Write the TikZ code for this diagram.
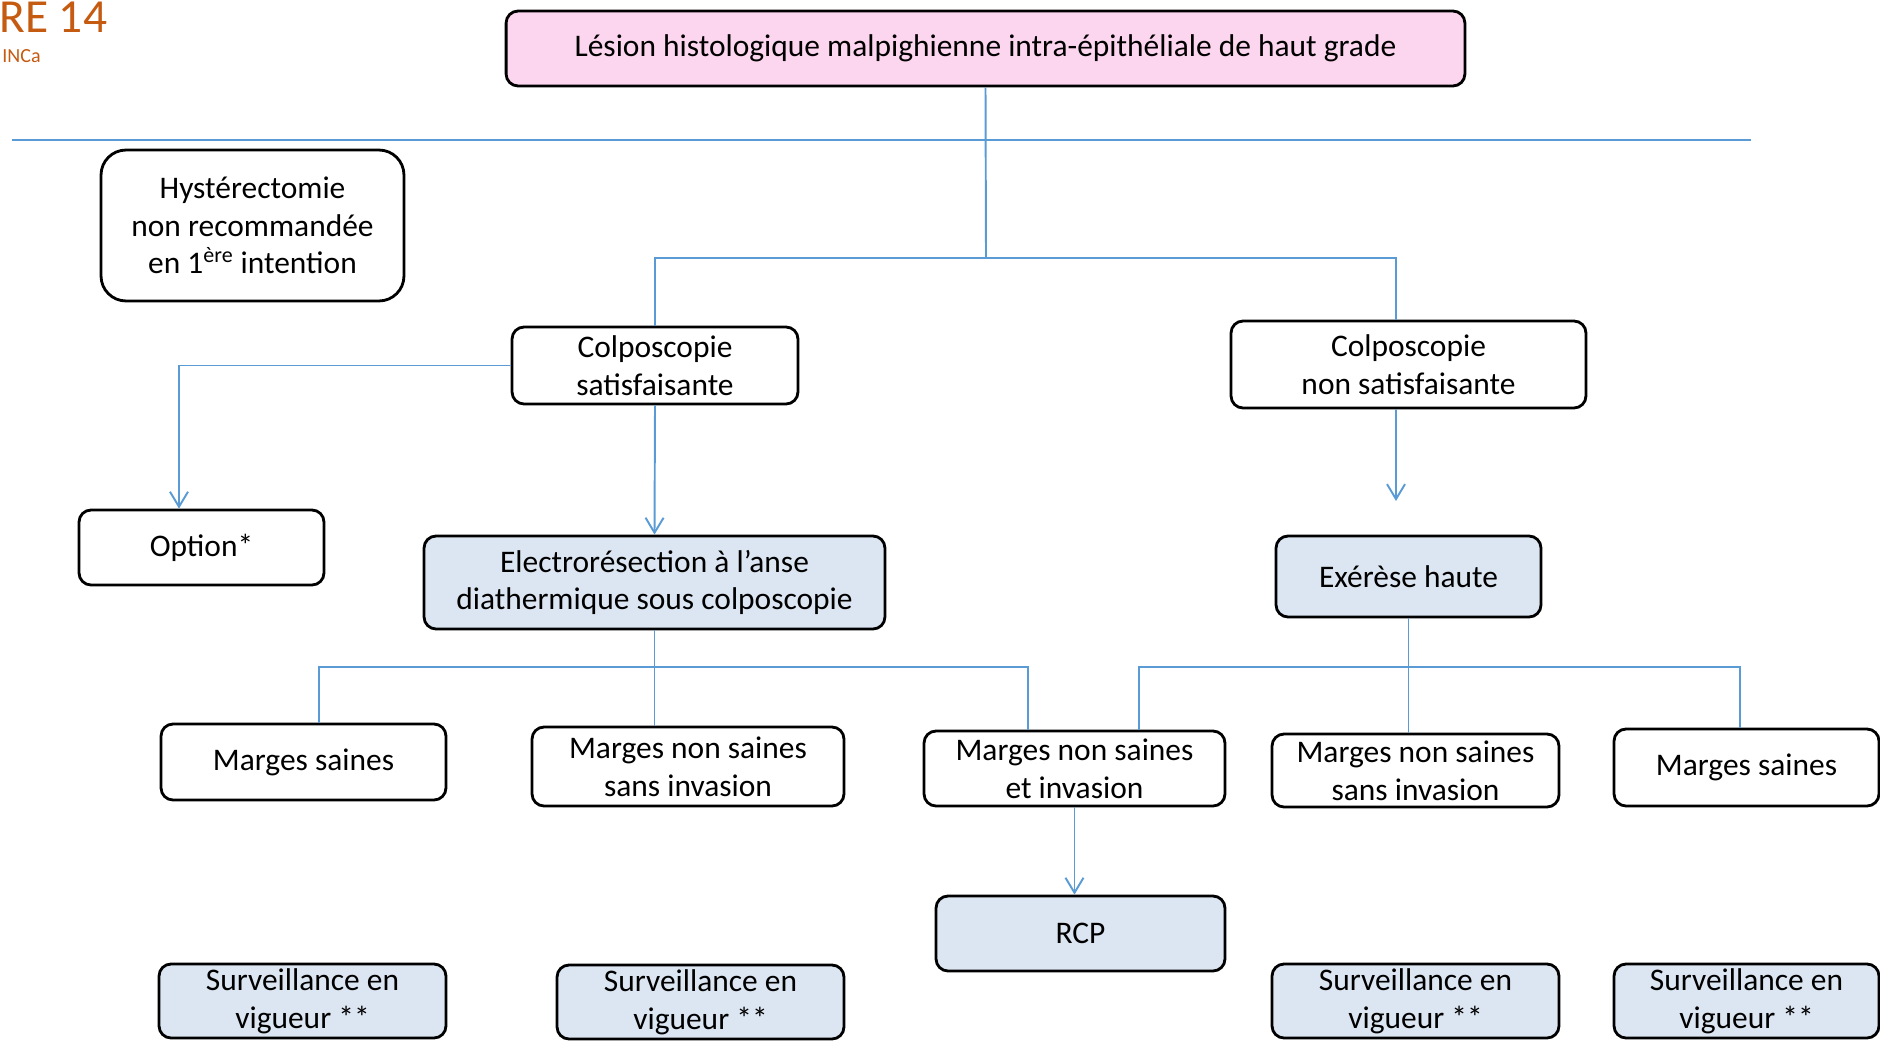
\documentclass[tikz,border=0pt]{standalone}
\usepackage{fontspec}
\setmainfont{Carlito}
\usepackage{tikz}
\usetikzlibrary{arrows.meta}

\definecolor{rose}{RGB}{252,214,238}
\definecolor{bleuclair}{RGB}{220,230,242}
\definecolor{bleutrait}{RGB}{91,155,213}
\definecolor{orangetitre}{RGB}{197,90,17}

\begin{document}
\begin{tikzpicture}[x=0.02cm, y=-0.02cm,
    boite/.style={draw, line width=1.6pt, rounded corners=0.24cm, inner sep=0pt,
      align=center, font=\fontsize{17.9}{21.5}\selectfont},
    lien/.style={draw=bleutrait, line width=1.1pt},
    fleche/.style={lien, -{Straight Barb[length=0.3cm, width=0.36cm]}}]
  \useasboundingbox (0,0) rectangle (1880,1041);

  \node[anchor=base west, inner sep=0pt, text=orangetitre, font=\fontsize{27}{30}\selectfont] at (-1,32) (titre) {RE 14};
  \node[anchor=base west, inner sep=0pt, text=orangetitre, font=\fontsize{11.4}{13}\selectfont] at (2,62) (source) {INCa};

  \node[boite, fill=rose, minimum width=19.18cm, minimum height=1.5cm] at (985.5,48.5) (lesion) {L\'esion histologique malpighienne intra-\'epith\'eliale de haut grade};
  \node[boite, rounded corners=0.5cm, minimum width=6.06cm, minimum height=3.02cm] at (252.5,225.5) (hyst) {Hyst\'erectomie\\non recommand\'ee\\en 1\textsuperscript{\`ere} intention};
  \node[boite, minimum width=5.72cm, minimum height=1.54cm] at (655,365.5) (colpoS) {Colposcopie\\satisfaisante};
  \node[boite, minimum width=7.1cm, minimum height=1.74cm] at (1408.5,364.5) (colpoN) {Colposcopie\\non satisfaisante};
  \node[boite, minimum width=4.9cm, minimum height=1.5cm] at (201.5,547.5) (option) {Option*};
  \node[boite, fill=bleuclair, minimum width=9.22cm, minimum height=1.86cm] at (654.5,582.5) (electro) {Electror\'esection \`a l’anse\\diathermique sous colposcopie};
  \node[boite, fill=bleuclair, minimum width=5.3cm, minimum height=1.62cm] at (1408.5,576.5) (exerese) {Ex\'er\`ese haute};

  \node[boite, minimum width=5.7cm, minimum height=1.52cm] at (303.5,762) (msL) {Marges saines};
  \node[boite, minimum width=6.24cm, minimum height=1.58cm] at (688,766.5) (mnsL) {Marges non saines\\sans invasion};
  \node[boite, minimum width=6.02cm, minimum height=1.5cm] at (1074.5,768.5) (mnsi) {Marges non saines\\et invasion};
  \node[boite, minimum width=5.74cm, minimum height=1.46cm] at (1415.5,770.5) (mnsR) {Marges non saines\\sans invasion};
  \node[boite, minimum width=5.3cm, minimum height=1.54cm] at (1746.5,767.5) (msR) {Marges saines};

  \node[boite, fill=bleuclair, minimum width=5.78cm, minimum height=1.5cm] at (1080.5,933.5) (rcp) {RCP};

  \node[boite, fill=bleuclair, minimum width=5.74cm, minimum height=1.48cm] at (302.5,1001) (surv1) {Surveillance en\\vigueur **};
  \node[boite, fill=bleuclair, minimum width=5.74cm, minimum height=1.48cm] at (700.5,1002) (surv2) {Surveillance en\\vigueur **};
  \node[boite, fill=bleuclair, minimum width=5.74cm, minimum height=1.48cm] at (1415.5,1001) (surv3) {Surveillance en\\vigueur **};
  \node[boite, fill=bleuclair, minimum width=5.3cm, minimum height=1.48cm] at (1746.5,1001) (surv4) {Surveillance en\\vigueur **};

  % trait horizontal sous le titre
  \draw[lien, line width=0.8pt] (12,140) -- (1751,140);

  \coordinate (j1) at (986,258);
  \draw[lien] (lesion.south) -- (j1);
  \draw[lien, line width=1.3pt] (j1) -| (colpoS.north);
  \draw[lien, line width=1.3pt] (j1) -| ([xshift=-0.25cm]colpoN.north);

  \draw[fleche] (colpoS.west) -| ([xshift=-0.45cm]option.north);
  \draw[fleche] (colpoS.south) -- (electro.north);
  \coordinate (finN) at (1396,501);
  \draw[fleche] ([xshift=-0.25cm]colpoN.south) -- (finN);

  \coordinate (j2) at (655,667);
  \draw[lien] (electro.south) -- (electro.south |- mnsL.north);
  \draw[lien] ([xshift=0.31cm]msL.north) |- (j2) -| ([xshift=-0.93cm]mnsi.north);

  \coordinate (j3) at (1409,667);
  \draw[lien] (exerese.south) -- (exerese.south |- mnsR.north);
  \draw[lien] ([xshift=1.29cm]mnsi.north) |- (j3) -| ([xshift=-0.13cm]msR.north);

  \draw[fleche] (mnsi.south) -- (mnsi.south |- rcp.north);
\end{tikzpicture}
\end{document}
